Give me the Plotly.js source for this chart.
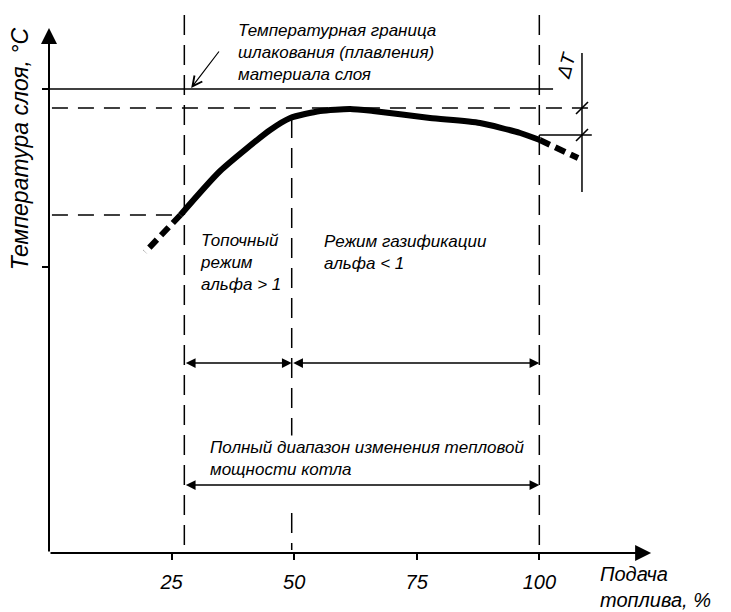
<!DOCTYPE html>
<html>
<head>
<meta charset="utf-8">
<script src="https://cdn.plot.ly/plotly-3.0.1.min.js"></script>
<style>html,body{margin:0;padding:0;background:#fff;}#chart{width:731px;height:612px;}</style>
</head>
<body>
<div id="chart"></div>
<script>
// ---- data (x: fuel feed, %, y: bed temperature, arbitrary units) ----
const feedCurve = [26.8, 34.9, 45.1, 49.2, 55.3, 61.4, 66.1, 77.7, 87.9, 96.1, 100.1];
const tempCurve = [67.6, 76.4, 84.6, 87.0, 88.4, 88.8, 88.4, 87.0, 86.0, 84.0, 82.6];
const feedExtHigh = [100.1, 107.9];
const tempExtHigh = [82.6, 79.0];
const feedExtLow = [26.8, 19.6];
const tempExtLow = [67.6, 60.2];
const slagTemp = 92.8;          // slagging (melting) temperature limit
const slagEnd = 102.8;
const peakLevel = 89.0;         // dashed level of curve maximum
const peakLevelEnd = 110.7;
const startLevel = 67.6;        // dashed level at start of curve
const startLevelEnd = 25.1;
const endLevel = 83.6;          // level at 100 % feed
const dTx = 108.7;              // delta-T dimension line
const dTrange = [72.2, 100.0];
const regimeBounds = [27.6, 49.5, 100];
const dimY1 = 38.0;
const dimY2 = 13.6;
const xTickVals = [25, 50, 75, 100];
const xTickText = ['25', '50', '75', '100'];
const yTickVals = [57.2, 92.8];
const xMax = 124, yMax = 110;
const axisTipX = 122.8, axisTipY = 105;

const fam = 'Liberation Sans, Arial, sans-serif';
const black = '#000';

const traces = [];
// main curve
traces.push({x: feedCurve, y: tempCurve, mode: 'lines', line: {color: black, width: 6, shape: 'spline', smoothing: 0.6}, cliponaxis: false, hoverinfo: 'skip'});
traces.push({x: feedExtHigh, y: tempExtHigh, mode: 'lines', line: {color: black, width: 6, dash: '11px,6px'}, cliponaxis: false, hoverinfo: 'skip'});
traces.push({x: feedExtLow, y: tempExtLow, mode: 'lines', line: {color: black, width: 6, dash: '11px,6px'}, cliponaxis: false, hoverinfo: 'skip'});
// slagging limit
traces.push({x: [0, slagEnd], y: [slagTemp, slagTemp], mode: 'lines', line: {color: black, width: 1.6}, cliponaxis: false, hoverinfo: 'skip'});
// dashed levels
traces.push({x: [0.6, peakLevelEnd], y: [peakLevel, peakLevel], mode: 'lines', line: {color: black, width: 1.5, dash: '16px,10px'}, cliponaxis: false, hoverinfo: 'skip'});
traces.push({x: [0.6, startLevelEnd], y: [startLevel, startLevel], mode: 'lines', line: {color: black, width: 1.5, dash: '16px,10px'}, cliponaxis: false, hoverinfo: 'skip'});
traces.push({x: [regimeBounds[2], peakLevelEnd], y: [endLevel, endLevel], mode: 'lines', line: {color: black, width: 1.3}, cliponaxis: false, hoverinfo: 'skip'});
// delta T dimension
traces.push({x: [dTx, dTx], y: dTrange, mode: 'lines', line: {color: black, width: 1.5}, cliponaxis: false, hoverinfo: 'skip'});
traces.push({x: [dTx, dTx], y: [peakLevel, endLevel], mode: 'markers', marker: {symbol: 'line-ne', size: 12, line: {color: black, width: 1.6}}, cliponaxis: false, hoverinfo: 'skip'});
// regime boundaries (vertical dashed)
traces.push({x: [regimeBounds[0], regimeBounds[0]], y: [107.6, 0.6], mode: 'lines', line: {color: black, width: 1.5, dash: '20px,10px'}, cliponaxis: false, hoverinfo: 'skip'});
traces.push({x: [regimeBounds[1], regimeBounds[1]], y: [87.0, 23.5], mode: 'lines', line: {color: black, width: 1.5, dash: '20px,10px'}, cliponaxis: false, hoverinfo: 'skip'});
traces.push({x: [regimeBounds[1], regimeBounds[1]], y: [8, 0.6], mode: 'lines', line: {color: black, width: 1.5, dash: '20px,10px'}, cliponaxis: false, hoverinfo: 'skip'});
traces.push({x: [regimeBounds[2], regimeBounds[2]], y: [107.6, 0.6], mode: 'lines', line: {color: black, width: 1.5, dash: '20px,10px'}, cliponaxis: false, hoverinfo: 'skip'});

function arrow(x0, y0, x1, y1, head, side, w, size) {
  return {x: x1, y: y1, ax: x0, ay: y0, xref: 'x', yref: 'y', axref: 'x', ayref: 'y', text: '', showarrow: true,
    arrowhead: head, startarrowhead: head, arrowside: side, arrowwidth: w, arrowsize: size, startarrowsize: size,
    arrowcolor: black, standoff: 0, startstandoff: 0};
}
function label(x, y, text, size, extra) {
  return Object.assign({x: x, y: y, xref: 'x', yref: 'y', text: text, showarrow: false, xanchor: 'left', yanchor: 'middle', align: 'left',
    font: {family: fam, size: size, color: black, style: 'italic'}}, extra || {});
}

const annotations = [
  // axes
  arrow(0, 0, axisTipX, 0, 2, 'end', 2, 1.6),
  arrow(0, 0, 0, axisTipY, 2, 'end', 2, 1.6),
  // dimension lines
  arrow(regimeBounds[0], dimY1, regimeBounds[1], dimY1, 2, 'end+start', 1.3, 1.5),
  arrow(regimeBounds[1], dimY1, regimeBounds[2], dimY1, 2, 'end+start', 1.3, 1.5),
  arrow(regimeBounds[0], dimY2, regimeBounds[2], dimY2, 2, 'end+start', 1.3, 1.5),
  // pointer to slagging limit
  arrow(34.9, 100.6, 29.0, 93.0, 5, 'end', 1.2, 1.6),
  // texts
  label(38.1, 100.2, 'Температурная граница<br>шлакования (плавления)<br>материала слоя', 17),
  label(30.4, 58.2, 'Топочный<br>режим<br>альфа &gt; 1', 17),
  label(55.7, 60.2, 'Режим газификации<br>альфа &lt; 1', 17),
  label(32.4, 19.0, 'Полный диапазон изменения тепловой<br>мощности котла', 17),
  label(105.4, 97.6, 'ΔT', 19, {xanchor: 'center', textangle: -75}),
  label(0.903, -0.062, 'Подача<br>топлива, %', 20, {xref: 'paper', yref: 'paper'}),
  label(-0.0477, 0.736, 'Температура слоя, °С', 23, {xref: 'paper', yref: 'paper', xanchor: 'center', textangle: -90})
];

const layout = {
  width: 731, height: 612,
  margin: {l: 49, r: 74, t: 3, b: 59},
  paper_bgcolor: '#fff', plot_bgcolor: '#fff',
  showlegend: false,
  xaxis: {range: [0, xMax], showgrid: false, zeroline: false, showline: false,
    tickmode: 'array', tickvals: xTickVals, ticktext: xTickText, ticks: 'outside', ticklen: 6, tickwidth: 2, tickcolor: black,
    ticklabelstandoff: 5,
    tickfont: {family: fam, size: 20, color: black, style: 'italic'}},
  yaxis: {range: [0, yMax], showgrid: false, zeroline: false, showline: false,
    tickmode: 'array', tickvals: yTickVals, ticktext: ['', ''], ticks: 'outside', ticklen: 6, tickwidth: 2, tickcolor: black},
  annotations: annotations
};

Plotly.newPlot('chart', traces, layout, {staticPlot: true, displayModeBar: false});
</script>
</body>
</html>
